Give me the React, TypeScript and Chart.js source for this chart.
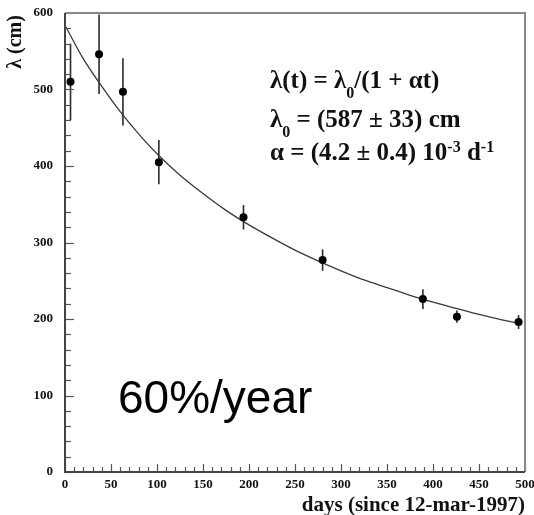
import React, { useEffect, useRef } from 'react';
import { Chart, registerables } from 'chart.js';

Chart.register(...registerables);

// measured points
const days = [6, 37, 63, 102, 194, 280, 389, 426, 493];
const lambdaCm = [510, 546, 497, 405, 333, 277, 226, 203, 196];
const errorsCm = [50, 52, 44, 29, 16, 14, 13, 8, 9];

// fitted curve
const fitDays = [0, 20, 40, 60, 80, 100, 125, 150, 175, 200, 225, 250, 275, 300, 325, 350, 375, 400, 425, 450, 475, 495];
const fitLambda = [584, 540, 504, 471, 442, 416, 388, 364, 342, 323, 306, 290, 276, 263, 251, 241, 231, 222, 214, 206, 199, 194];

const xMin = 0;
const xMax = 500;
const xMajorStep = 50;
const xMinorStep = 10;
const yMin = 0;
const yMax = 600;
const yMajorStep = 100;
const yMinorStep = 20;

const xTitle = 'days (since 12-mar-1997)';
const yTitle = 'λ (cm)';
const bigLabel = '60%/year';

type Part = [string, 'n' | 'sub' | 'sup'];
const formulaLines: Part[][] = [
  [['λ(t) = λ', 'n'], ['0', 'sub'], ['/(1 + αt)', 'n']],
  [['λ', 'n'], ['0', 'sub'], [' = (587 ± 33) cm', 'n']],
  [['α = (4.2 ± 0.4) 10', 'n'], ['-3', 'sup'], [' d', 'n'], ['-1', 'sup']],
];

const SERIF = '"Liberation Serif", "Times New Roman", Times, serif';
const SANS = '"Liberation Sans", Arial, Helvetica, sans-serif';

function drawRich(ctx: CanvasRenderingContext2D, x: number, y: number, parts: Part[]) {
  let cx = x;
  for (const [t, k] of parts) {
    const size = k === 'n' ? 25 : 16;
    const dy = k === 'sub' ? 10 : k === 'sup' ? -8 : 0;
    ctx.font = `bold ${size}px ${SERIF}`;
    ctx.fillText(t, cx, y + dy);
    cx += ctx.measureText(t).width;
  }
}

const decorPlugin = {
  id: 'decor',
  beforeDatasetsDraw(chart: any) {
    const { ctx, chartArea: a, scales } = chart;
    const xs = scales.x;
    const ys = scales.y;
    ctx.save();
    ctx.beginPath();
    ctx.rect(a.left, a.top, a.right - a.left, a.bottom - a.top);
    ctx.clip();
    ctx.strokeStyle = '#2a2a2a';
    ctx.lineWidth = 1.6;
    days.forEach((d, i) => {
      const px = xs.getPixelForValue(d);
      ctx.beginPath();
      ctx.moveTo(px, ys.getPixelForValue(lambdaCm[i] - errorsCm[i]));
      ctx.lineTo(px, ys.getPixelForValue(lambdaCm[i] + errorsCm[i]));
      ctx.stroke();
    });
    ctx.restore();
  },
  afterDraw(chart: any) {
    const { ctx, chartArea: a, scales } = chart;
    const xs = scales.x;
    const ys = scales.y;
    ctx.save();
    // ticks
    ctx.strokeStyle = '#555';
    ctx.lineWidth = 1.2;
    for (let v = yMin; v <= yMax; v += yMinorStep) {
      const py = Math.round(ys.getPixelForValue(v)) + 0.5;
      const len = v % yMajorStep === 0 ? 9 : 6;
      ctx.beginPath();
      ctx.moveTo(a.left, py);
      ctx.lineTo(a.left + len, py);
      ctx.stroke();
    }
    for (let v = xMin; v <= xMax; v += xMinorStep) {
      const px = Math.round(xs.getPixelForValue(v)) + 0.5;
      const len = v % xMajorStep === 0 ? 8 : 5;
      ctx.beginPath();
      ctx.moveTo(px, a.bottom);
      ctx.lineTo(px, a.bottom - len);
      ctx.stroke();
    }
    // frame
    ctx.lineWidth = 2;
    ctx.strokeStyle = '#888';
    ctx.beginPath();
    ctx.moveTo(a.left, a.top);
    ctx.lineTo(a.right, a.top);
    ctx.lineTo(a.right, a.bottom);
    ctx.stroke();
    ctx.strokeStyle = '#444';
    ctx.beginPath();
    ctx.moveTo(a.left, a.top);
    ctx.lineTo(a.left, a.bottom);
    ctx.lineTo(a.right, a.bottom);
    ctx.stroke();

    ctx.fillStyle = '#111';
    // axis titles
    ctx.font = `bold 21px ${SERIF}`;
    ctx.textAlign = 'right';
    ctx.textBaseline = 'middle';
    ctx.fillText(xTitle, a.right, 506);
    ctx.save();
    ctx.translate(16, 42);
    ctx.rotate(-Math.PI / 2);
    ctx.textAlign = 'center';
    ctx.font = `bold 20px ${SERIF}`;
    ctx.fillText(yTitle, 0, 0);
    ctx.restore();

    // formula
    ctx.textAlign = 'left';
    ctx.textBaseline = 'alphabetic';
    const baselines = [88, 127, 160];
    formulaLines.forEach((parts, i) => drawRich(ctx, 270, baselines[i], parts));

    // big label
    ctx.font = `46px ${SANS}`;
    ctx.fillStyle = '#000';
    ctx.fillText(bigLabel, 118, 413);
    ctx.restore();
  },
};

export default function App() {
  const ref = useRef<HTMLCanvasElement>(null);
  useEffect(() => {
    document.body.style.margin = '0';
    const canvas = ref.current!;
    const tickFont = { family: SERIF, weight: 'bold' as const, size: 13 };
    const chart = new Chart(canvas, {
      type: 'scatter',
      data: {
        datasets: [
          {
            data: days.map((d, i) => ({ x: d, y: lambdaCm[i] })),
            pointRadius: 4,
            pointHoverRadius: 4,
            backgroundColor: '#000',
            borderColor: '#000',
            borderWidth: 0,
          },
          {
            data: fitDays.map((d, i) => ({ x: d, y: fitLambda[i] })),
            showLine: true,
            pointRadius: 0,
            borderColor: '#3a3a3a',
            borderWidth: 1.3,
            cubicInterpolationMode: 'monotone',
          } as any,
        ],
      },
      options: {
        responsive: false,
        animation: false,
        devicePixelRatio: 1,
        layout: { padding: { left: 0, right: 9, top: 13, bottom: 0 } },
        plugins: { legend: { display: false }, tooltip: { enabled: false } },
        events: [],
        scales: {
          x: {
            type: 'linear',
            min: xMin,
            max: xMax,
            grid: { display: false, drawTicks: false },
            border: { display: false },
            ticks: { stepSize: xMajorStep, font: tickFont, color: '#111', padding: 5, maxRotation: 0, autoSkip: false },
            afterFit(scale: any) {
              scale.height = 43;
              scale.paddingLeft = 0;
              scale.paddingRight = 0;
            },
          },
          y: {
            type: 'linear',
            min: yMin,
            max: yMax,
            grid: { display: false, drawTicks: false },
            border: { display: false },
            ticks: { stepSize: yMajorStep, font: tickFont, color: '#111', padding: 12, autoSkip: false },
            afterFit(scale: any) {
              scale.width = 65;
              scale.paddingTop = 0;
              scale.paddingBottom = 0;
            },
          },
        },
      },
      plugins: [decorPlugin],
    });
    return () => chart.destroy();
  }, []);
  return (
    <div style={{ width: 534, height: 515, background: '#fff' }}>
      <canvas ref={ref} width={534} height={515} style={{ display: 'block', width: 534, height: 515 }} />
    </div>
  );
}
